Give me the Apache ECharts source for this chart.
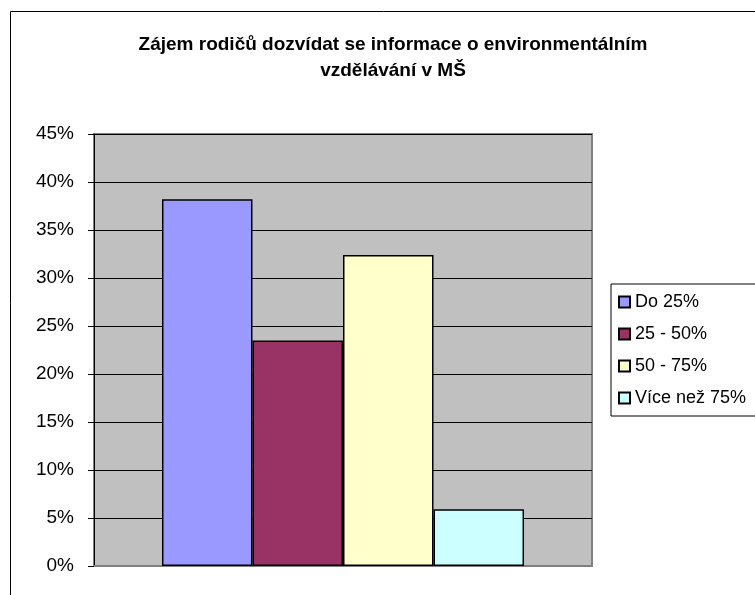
<!DOCTYPE html>
<html>
<head>
<meta charset="utf-8">
<script src="https://cdn.jsdelivr.net/npm/echarts@6/dist/echarts.min.js"></script>
<style>
  html, body { margin: 0; padding: 0; background: #fff; }
  #chart { width: 755px; height: 595px; }
</style>
</head>
<body>
<div id="chart"></div>
<script>
// data
var titleText = "Zájem rodičů dozvídat se informace o environmentálním\nvzdělávání v MŠ";
var categories = [""];
var seriesNames = ["Do 25%", "25 - 50%", "50 - 75%", "Více než 75%"];
var seriesValues = [[0.382], [0.235], [0.324], [0.059]];
var seriesColors = ["#9999FF", "#993366", "#FFFFCC", "#CCFFFF"];

var font = "Arial, 'Liberation Sans', sans-serif";

var myChart = echarts.init(document.getElementById("chart"));

var option = {
  animation: false,
  backgroundColor: "#fff",
  title: {
    text: titleText,
    left: 388,
    top: 27,
    textAlign: "center",
    textStyle: {
      fontFamily: font,
      fontSize: 19,
      fontWeight: "bold",
      color: "#000",
      lineHeight: 26,
    },
  },
  graphic: [
    {
      // outer chart frame, runs off the right and bottom edges
      type: "rect",
      shape: { x: 10.5, y: 11.5, width: 800, height: 700 },
      style: { fill: "none", stroke: "#000", lineWidth: 1 },
      silent: true,
    },
  ],
  legend: {
    orient: "vertical",
    left: 611,
    top: 284,
    padding: [8, 40, 8, 7],
    itemGap: 12,
    itemWidth: 11,
    itemHeight: 11,
    borderColor: "#000",
    borderWidth: 1,
    icon: "rect",
    textStyle: {
      fontFamily: font,
      fontSize: 18,
      color: "#000",
      lineHeight: 20,
    },
    data: seriesNames,
  },
  grid: {
    left: 94,
    top: 134,
    right: 163,
    bottom: 29,
    show: true,
    backgroundColor: "#C0C0C0",
    borderColor: "#808080",
    borderWidth: 2,
  },
  xAxis: {
    type: "category",
    data: categories,
    axisLine: { lineStyle: { color: "#808080", width: 2 } },
    axisTick: { show: false },
    axisLabel: { show: false },
  },
  yAxis: {
    type: "value",
    min: 0,
    max: 0.45,
    interval: 0.05,
    axisLine: { show: true, lineStyle: { color: "#000", width: 1 } },
    axisTick: { show: true, inside: false, length: 6, lineStyle: { color: "#000" } },
    axisLabel: {
      margin: 20,
      fontFamily: font,
      fontSize: 19,
      color: "#000",
      formatter: function (v) {
        return Math.round(v * 100) + "%";
      },
    },
    splitLine: { lineStyle: { color: "#000", width: 1 } },
  },
  series: seriesNames.map(function (name, i) {
    return {
      name: name,
      type: "bar",
      data: seriesValues[i],
      barGap: "0%",
      barCategoryGap: "27.3%",
      itemStyle: {
        color: seriesColors[i],
        borderColor: "#000",
        borderWidth: 1.5,
      },
    };
  }),
};

myChart.setOption(option);

window.addEventListener("resize", function () {
  myChart.resize();
});
</script>
</body>
</html>
